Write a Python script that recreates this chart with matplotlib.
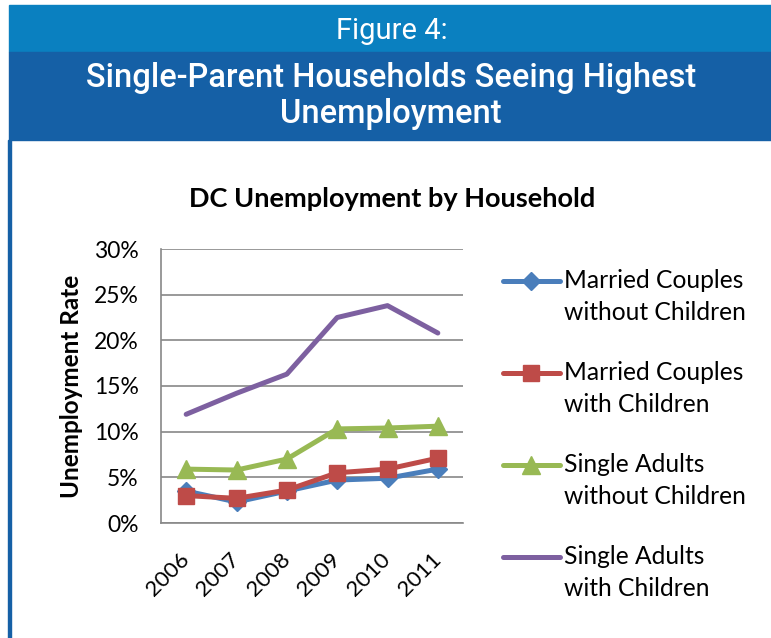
import matplotlib.pyplot as plt
from matplotlib.patches import Rectangle
from matplotlib.lines import Line2D
from matplotlib.ticker import PercentFormatter

# data
years = ['2006', '2007', '2008', '2009', '2010', '2011']
married_no_kids = [3.5, 2.3, 3.5, 4.7, 4.9, 5.9]
married_kids = [3.0, 2.7, 3.6, 5.5, 5.9, 7.1]
single_no_kids = [5.9, 5.8, 7.0, 10.3, 10.4, 10.6]
single_kids = [11.9, 14.2, 16.3, 22.5, 23.8, 20.8]

labels = ['Married Couples\nwithout Children', 'Married Couples\nwith Children',
          'Single Adults\nwithout Children', 'Single Adults\nwith Children']

W, H = 771, 638
fig = plt.figure(figsize=(W / 100, H / 100), dpi=100)
chart_font = ['Lato', 'DejaVu Sans']
head_font = ['Roboto', 'DejaVu Sans']

# header bands + left border
fig.patches.append(Rectangle((9 / W, 1 - 52 / H), 1, 47 / H, transform=fig.transFigure,
                             color='#0A80C0', zorder=0))
fig.patches.append(Rectangle((9 / W, 1 - 140 / H), 1, 88 / H, transform=fig.transFigure,
                             color='#1560A6', zorder=0))
fig.patches.append(Rectangle((8 / W, 0), 3 / W, 1 - 140 / H, transform=fig.transFigure,
                             color='#1560A6', zorder=0))
fig.text(392 / W, 1 - 31 / H, 'Figure 4:', color='white', fontsize=21, family=head_font,
         ha='center', va='center')
fig.text(391 / W, 1 - 96 / H, 'Single-Parent Households Seeing Highest\nUnemployment',
         color='white', fontsize=23.5, family=head_font, weight='medium', ha='center',
         va='center', linespacing=1.2)

ax = fig.add_axes([161 / W, 115 / H, 302 / W, 274 / H])
x = range(len(years))
series = [
    (married_no_kids, dict(color='#4A7EBB', marker='D', markersize=9)),
    (married_kids, dict(color='#BE4B48', marker='s', markersize=12)),
    (single_no_kids, dict(color='#98B954', marker='^', markersize=13)),
    (single_kids, dict(color='#7D60A0', marker=None)),
]
for vals, st in series:
    ax.plot(x, vals, linewidth=3.6, solid_capstyle='round', **st)

ax.set_xlim(-0.5, len(years) - 0.5)
ax.set_ylim(0, 30)
ax.set_yticks(range(0, 31, 5))
ax.yaxis.set_major_formatter(PercentFormatter(decimals=0))
ax.set_xticks(list(x))
ax.set_xticklabels(years, rotation=45, ha='right', va='center', rotation_mode='anchor',
                   family=chart_font, fontsize=16)
for lab in ax.get_yticklabels():
    lab.set_family(chart_font)
    lab.set_fontsize(16.5)
ax.tick_params(axis='y', length=0, pad=16)
ax.tick_params(axis='x', length=0, pad=24)
ax.grid(axis='y', color='#888888', linewidth=1.2)
ax.set_axisbelow(True)
for s in ['top', 'right']:
    ax.spines[s].set_visible(False)
for s in ['left', 'bottom']:
    ax.spines[s].set_color('#888888')
    ax.spines[s].set_linewidth(1.2)

fig.text(392 / W, 1 - 199 / H, 'DC Unemployment by Household', family=chart_font,
         fontsize=19.5, weight='bold', ha='center', va='center')
ax.set_ylabel('Unemployment Rate', family=chart_font, fontsize=17.5, weight='bold', labelpad=8)

# legend drawn by hand so the handle sits on the first text line
for i, ((vals, st), lab) in enumerate(zip(series, labels)):
    yl = 1 - (281 + 92 * i) / H
    fig.lines.append(Line2D([503 / W, 560 / W], [yl, yl], transform=fig.transFigure,
                            linewidth=3.6, solid_capstyle='round', color=st['color']))
    if st['marker']:
        fig.lines.append(Line2D([531 / W], [yl], transform=fig.transFigure, linestyle='none',
                                **st))
    fig.text(564 / W, yl + 12 / H, lab, family=chart_font, fontsize=17.7,
             ha='left', va='top', linespacing=1.5)

fig.savefig('out.png', dpi=100)
